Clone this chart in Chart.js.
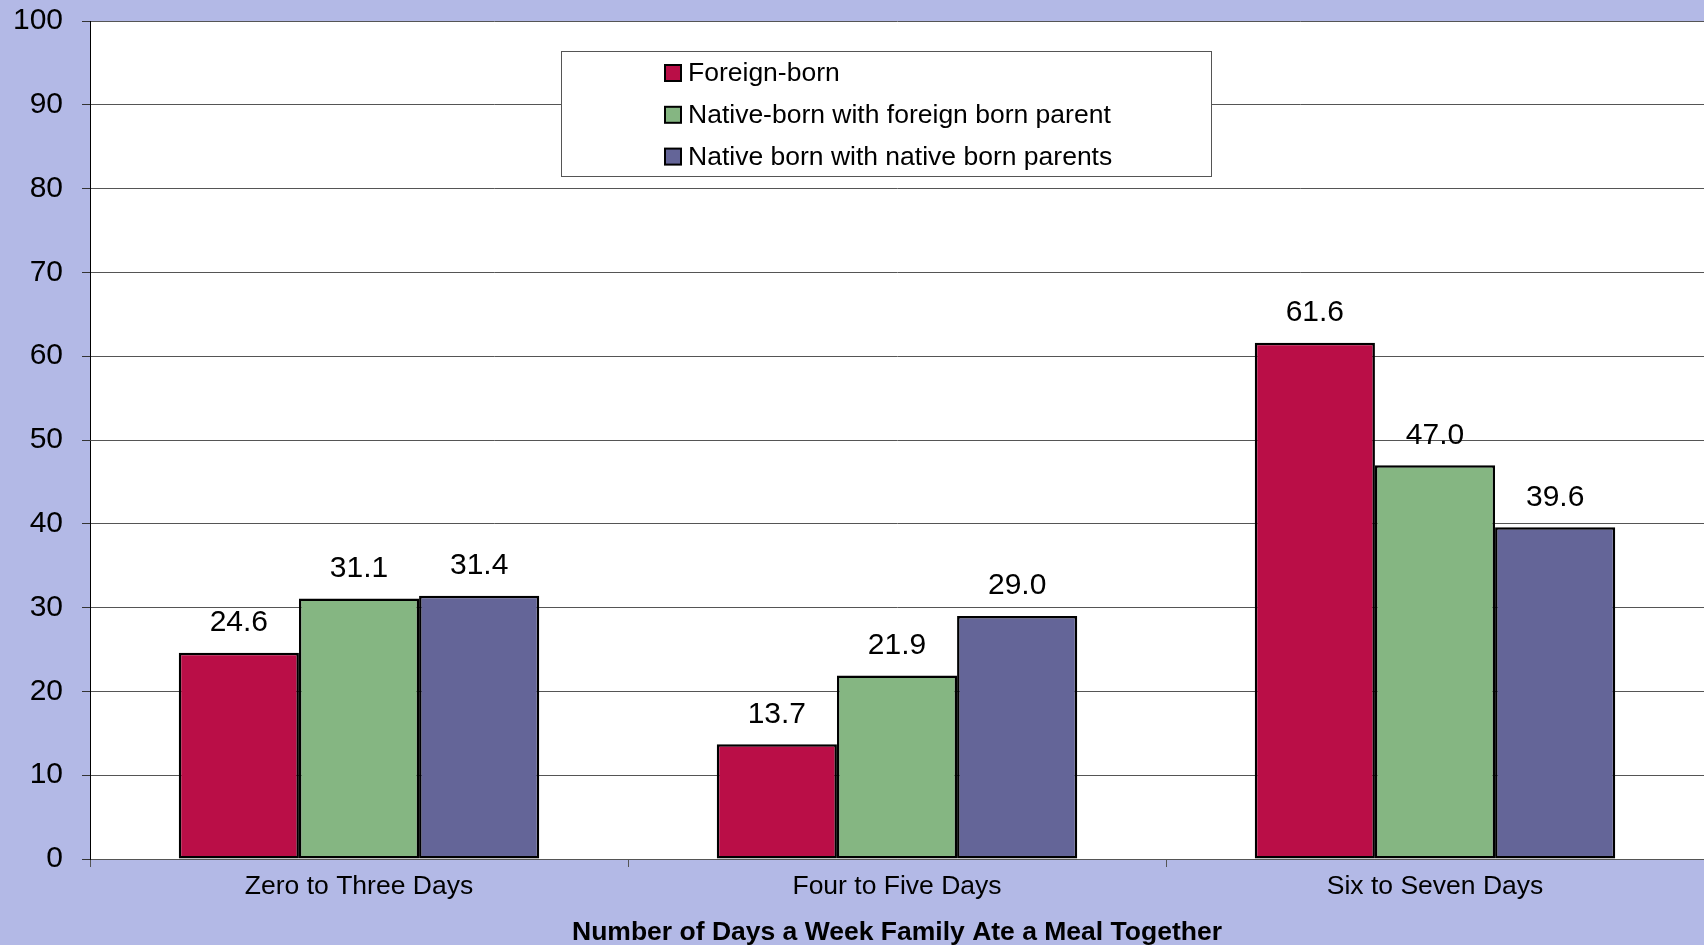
<!DOCTYPE html>
<html>
<head>
<meta charset="utf-8">
<title>Family meals by nativity</title>
<script src="https://cdn.jsdelivr.net/npm/chart.js@4/dist/chart.umd.min.js"></script>
<style>
  html, body { margin: 0; padding: 0; background: #B3B9E6; }
  #wrap { width: 1704px; height: 945px; }
</style>
</head>
<body>
<div id="wrap"><canvas id="chartComidas" width="1704" height="945"></canvas></div>
<script>
// --- datos ---
const categorias = ['Zero to Three Days', 'Four to Five Days', 'Six to Seven Days'];
const series = ['Foreign-born', 'Native-born with foreign born parent', 'Native born with native born parents'];
const foreignBorn = [24.6, 13.7, 61.6];
const nativeForeignParent = [31.1, 21.9, 47.0];
const nativeNativeParents = [31.4, 29.0, 39.6];
const colores = ['#BA0E47', '#85B682', '#646598'];
const tituloEjeX = 'Number of Days a Week Family Ate a Meal Together';

const FUENTE = '"Liberation Sans", Arial, sans-serif';

// fondo blanco solo dentro del area de grafico
const fondoArea = {
  id: 'fondoArea',
  beforeDraw(chart) {
    const { ctx, chartArea: a } = chart;
    ctx.save();
    ctx.fillStyle = '#FFFFFF';
    ctx.fillRect(a.left, a.top, a.right - a.left, a.bottom - a.top);
    ctx.restore();
  }
};

// valores arriba de cada barra
const etiquetasValor = {
  id: 'etiquetasValor',
  afterDatasetsDraw(chart) {
    const ctx = chart.ctx;
    ctx.save();
    ctx.font = '30px ' + FUENTE;
    ctx.fillStyle = '#000';
    ctx.textAlign = 'center';
    ctx.textBaseline = 'alphabetic';
    chart.data.datasets.forEach((ds, i) => {
      chart.getDatasetMeta(i).data.forEach((bar, j) => {
        ctx.fillText(ds.data[j].toFixed(1), bar.x, bar.y - 21.5);
      });
    });
    ctx.restore();
  }
};

// leyenda en caja blanca dentro del grafico
const leyendaCaja = {
  id: 'leyendaCaja',
  afterDraw(chart) {
    const ctx = chart.ctx;
    const box = { x: 561, y: 51, w: 650, h: 125 };
    ctx.save();
    ctx.fillStyle = '#FFFFFF';
    ctx.fillRect(box.x, box.y, box.w, box.h);
    ctx.strokeStyle = '#555';
    ctx.lineWidth = 1;
    ctx.strokeRect(box.x + 0.5, box.y + 0.5, box.w, box.h);
    ctx.font = '26.5px ' + FUENTE;
    ctx.textBaseline = 'middle';
    ctx.textAlign = 'left';
    chart.data.datasets.forEach((ds, i) => {
      const cy = 73 + i * 41.8;
      ctx.fillStyle = ds.backgroundColor;
      ctx.fillRect(665, cy - 8, 16, 16);
      ctx.strokeStyle = '#000';
      ctx.lineWidth = 2;
      ctx.strokeRect(665, cy - 8, 16, 16);
      ctx.fillStyle = '#000';
      ctx.fillText(ds.label, 688, cy + 1);
    });
    ctx.restore();
  }
};

new Chart(document.getElementById('chartComidas').getContext('2d'), {
  type: 'bar',
  data: {
    labels: categorias,
    datasets: [
      { label: series[0], data: foreignBorn, backgroundColor: colores[0] },
      { label: series[1], data: nativeForeignParent, backgroundColor: colores[1] },
      { label: series[2], data: nativeNativeParents, backgroundColor: colores[2] }
    ].map(d => Object.assign(d, {
      borderColor: '#000',
      borderWidth: 2.5,
      borderSkipped: false,
      categoryPercentage: 0.67,
      barPercentage: 1.0
    }))
  },
  options: {
    responsive: false,
    animation: false,
    layout: { padding: { top: 21, right: 0, bottom: 0, left: 0 } },
    plugins: {
      legend: { display: false },
      tooltip: { enabled: false }
    },
    scales: {
      x: {
        grid: {
          offset: true,
          drawOnChartArea: false,
          drawTicks: true,
          tickLength: 8,
          tickColor: '#555'
        },
        border: { color: '#555', width: 1 },
        ticks: {
          color: '#000',
          padding: 4,
          maxRotation: 0,
          font: { family: FUENTE, size: 26.5 }
        },
        title: {
          display: true,
          text: tituloEjeX,
          color: '#000',
          padding: { top: 4, bottom: -1 },
          font: { family: FUENTE, size: 26.5, weight: 'bold', lineHeight: 1 }
        },
        afterFit(scale) {
          scale.height = 86;
          scale.paddingLeft = 0;
          scale.paddingRight = 0;
        }
      },
      y: {
        min: 0,
        max: 100,
        ticks: {
          stepSize: 10,
          color: '#000',
          padding: 19,
          font: { family: FUENTE, size: 30 }
        },
        grid: {
          color: '#555',
          lineWidth: 1,
          drawTicks: true,
          tickLength: 8,
          tickColor: '#333'
        },
        border: { color: '#000', width: 1 },
        afterFit(scale) {
          scale.width = 90;
          scale.paddingTop = 0;
          scale.paddingBottom = 0;
        }
      }
    }
  },
  plugins: [fondoArea, etiquetasValor, leyendaCaja]
});
</script>
</body>
</html>
